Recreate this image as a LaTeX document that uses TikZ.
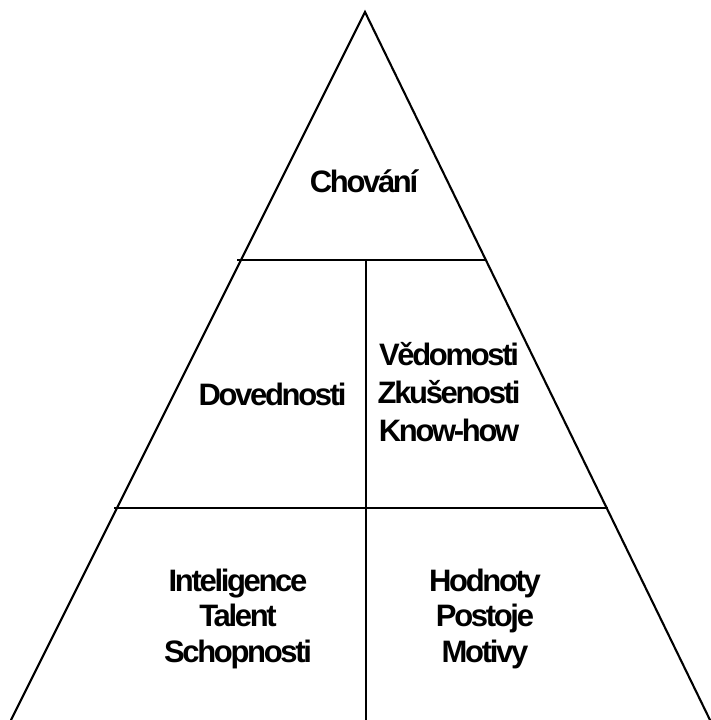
\documentclass[tikz,border=0pt]{standalone}
\usepackage{fontspec}
\setmainfont{Liberation Sans}[LetterSpace=-7.5]
\begin{document}
\begin{tikzpicture}[x=1pt,y=-1pt,
  edge/.style={line width=2.1pt,line cap=round,line join=miter},
  divider/.style={line width=2.1pt},
  label/.style={inner sep=0pt,align=center,font=\fontsize{31}{38}\selectfont\bfseries},
  lowlabel/.style={label,font=\fontsize{31}{35.5}\selectfont\bfseries}]
  \useasboundingbox (0,0) rectangle (711,720);
  % outline of the pyramid
  \coordinate (apex) at (365,12);
  \coordinate (bl) at (11,720);
  \coordinate (br) at (710,720);
  \draw[edge] (bl) -- (apex) -- (br);
  % level dividers
  \coordinate (h1l) at (237,260);
  \coordinate (h1r) at (486,260);
  \coordinate (h2l) at (114,508);
  \coordinate (h2r) at (608,508);
  \coordinate (vt) at (366,260);
  \coordinate (vb) at (366,720);
  \draw[divider] (h1l) -- (h1r);
  \draw[divider,line width=2.6pt] (h2l) -- (h2r);
  \draw[divider] (vt) -- (vb);
  % cell texts (base anchor = baseline of the last line)
  \node[label,anchor=base] (chovani) at (364,192.3) {Chování};
  \node[label,anchor=base] (dovednosti) at (272.5,405) {Dovednosti};
  \node[label,anchor=base] (vedomosti) at (449,441.7) {Vědomosti\\Zkušenosti\\Know-how};
  \node[lowlabel,anchor=base] (inteligence) at (238,662) {Inteligence\\Talent\\Schopnosti};
  \node[lowlabel,anchor=base] (hodnoty) at (485,662) {Hodnoty\\Postoje\\Motivy};
\end{tikzpicture}
\end{document}
